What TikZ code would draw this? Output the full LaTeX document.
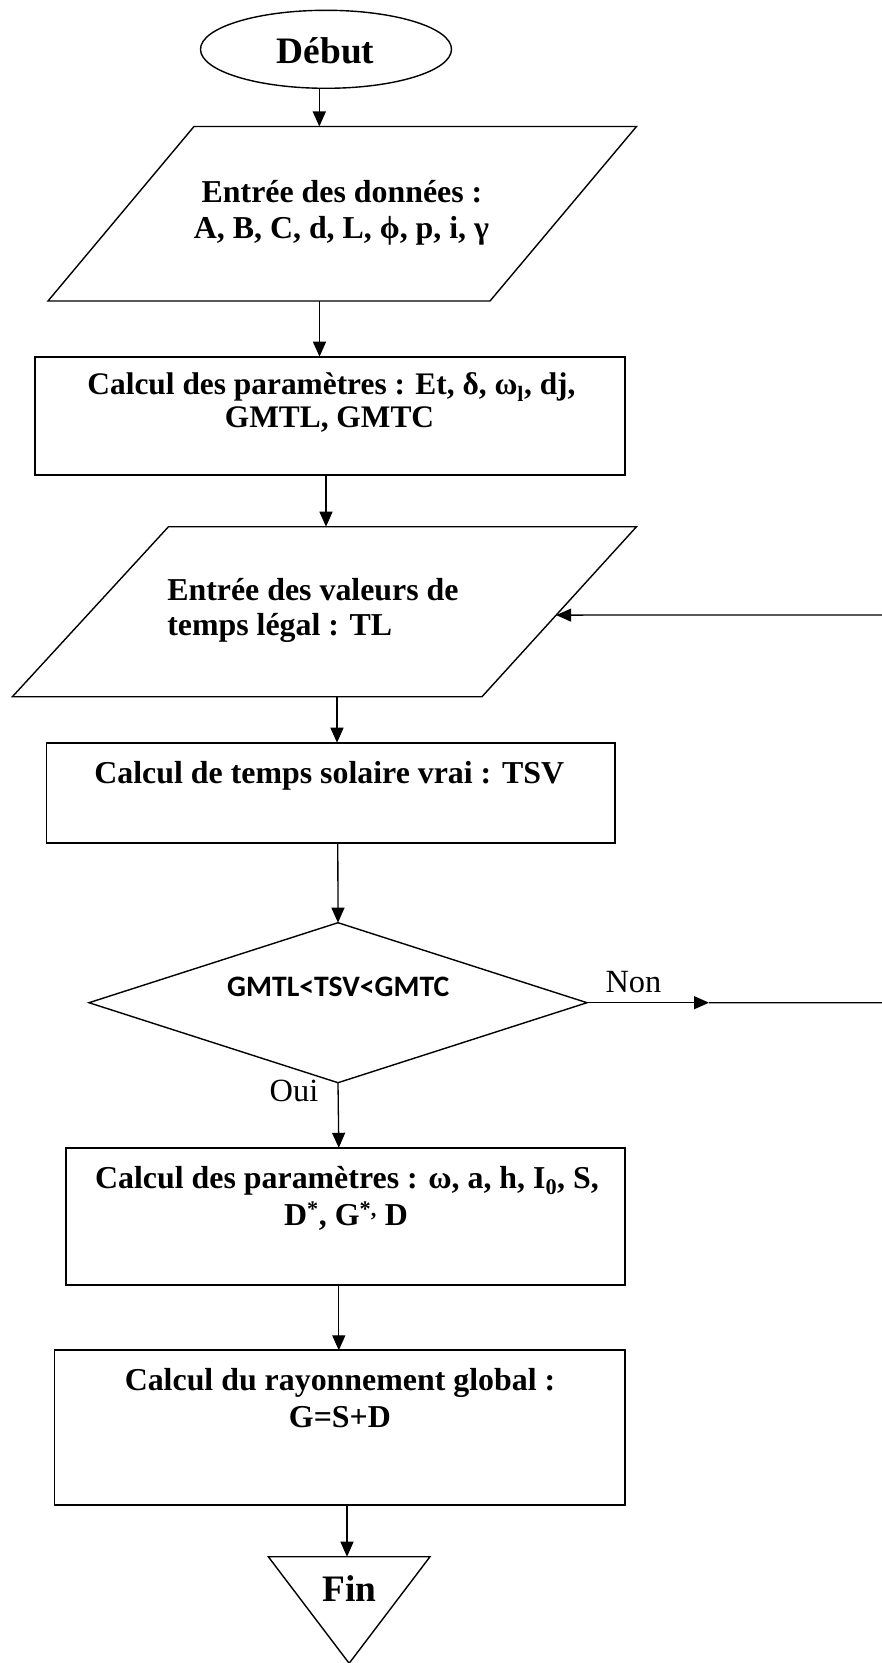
\documentclass[tikz,border=0pt]{standalone}
\usepackage{fontspec}
\setmainfont{Liberation Serif}
\newfontfamily\calfont{Carlito}
\usetikzlibrary{shapes.geometric,arrows.meta,calc}
\tikzset{
  arr/.style={line width=1.3bp,-{Triangle[length=15bp,width=13bp]}},
  boxshape/.style={draw,line width=1.8bp,rectangle,inner sep=0pt,outer sep=0pt},
  frame/.style={draw=none,rectangle,inner sep=0pt,outer sep=0pt},
  outline/.style={line width=1.4bp},
  txt/.style={inner sep=0pt,outer sep=0pt,anchor=base,font=\fontsize{32}{36}\selectfont\bfseries},
  txtl/.style={txt,anchor=base west},
  lbl/.style={inner sep=0pt,outer sep=0pt,anchor=base west,font=\fontsize{32.5}{36}\selectfont},
  big/.style={inner sep=0pt,outer sep=0pt,anchor=base,font=\fontsize{37.5}{40}\selectfont\bfseries},
}
\begin{document}
\begin{tikzpicture}[x=1bp,y=-1bp]
\useasboundingbox (0,0) rectangle (881,1663);
% Début
\node[draw,ellipse,line width=1.4bp,inner sep=0pt,outer sep=0pt,minimum width=251bp,minimum height=78bp] (debut) at (326,49.3) {};
\node[big] (tdebut) at (325.5,64) {Début};
% Parallelogram 1
\node[frame,minimum width=588.5bp,minimum height=174.5bp] (p1) at (342.25,213.75) {};
\draw[outline] (p1.south west) -- ++(442,0) -- (p1.north east) -- ++(-442.5,0) -- cycle;
\node[txt] (t1a) at (342,202.7) {Entrée des données :};
\node[txt] (t1b) at (341.5,238.3) {A, B, C, d, L, ϕ, p, i, γ};
% Box 2
\node[boxshape,minimum width=590.5bp,minimum height=118.3bp] (b2) at (330,415.85) {};
\node[txt,font=\fontsize{31.5}{36}\selectfont\bfseries] (t2a) at (331.5,394.5) {Calcul des paramètres : Et, δ, ω\textsubscript{l}, dj,};
\node[txt,font=\fontsize{31.5}{36}\selectfont\bfseries] (t2b) at (329.5,427) {GMTL, GMTC};
% Parallelogram 2
\node[frame,minimum width=624.1bp,minimum height=170bp] (p2) at (324.45,611.7) {};
\draw[outline] (p2.south west) -- ++(469.6,0) -- (p2.north east) -- ++(-468,0) -- cycle;
\coordinate (p2tr) at (p2.north east);
\coordinate (p2br) at ([xshift=-154.5bp]p2.south east);
\node[txtl] (t3a) at (167.3,600.7) {Entrée des valeurs de};
\node[txtl] (t3b) at (167.3,635.7) {temps légal : TL};
% Box 3
\node[boxshape,minimum width=568.4bp,minimum height=100bp] (b3) at (330.8,792.7) {};
\node[txt] (t4) at (329.2,783.3) {Calcul de temps solaire vrai : TSV};
% Decision
\node[draw,diamond,line width=1.4bp,inner sep=0pt,outer sep=0pt,minimum width=498bp,minimum height=160bp] (dec) at (338,1002.7) {};
\node[inner sep=0pt,anchor=base,font=\fontsize{29.8}{32}\selectfont\calfont\bfseries] (tdec) at (338.3,996) {GMTL<TSV<GMTC};
\node[lbl] (non) at (605.6,992.7) {Non};
\node[lbl] (oui) at (269.7,1101.7) {Oui};
% Box 4
\node[boxshape,minimum width=558.4bp,minimum height=137.2bp] (b4) at (345.5,1216.4) {};
\node[txt] (t5a) at (347,1188) {Calcul des paramètres : ω, a, h, I\textsubscript{0}, S,};
\node[txt] (t5b) at (346,1225.7) {D\textsuperscript{*}, G\textsuperscript{*,} D};
% Box 5
\node[boxshape,minimum width=570.2bp,minimum height=154.7bp] (b5) at (339.6,1427.65) {};
\node[txt] (t6a) at (340,1390) {Calcul du rayonnement global :};
\node[txt] (t6b) at (339.9,1427.5) {G=S+D};
% Fin
\node[frame,minimum width=161.7bp,minimum height=106.6bp] (fin) at (349.15,1610) {};
\draw[outline] (fin.north west) -- (fin.north east) -- (fin.south) -- cycle;
\node[big] (tfin) at (349.2,1601.7) {Fin};
% connector x positions
\coordinate (x1) at (319.3,0);
\coordinate (x2) at (319.5,0);
\coordinate (x3) at (326,0);
\coordinate (x4) at (337,0);
\coordinate (x5) at (337.8,0);
\coordinate (x6) at (338.8,0);
\coordinate (x7) at (347,0);
% connectors
\draw[arr] (debut.south -| x1) -- (p1.north -| x1);
\draw[arr] (p1.south -| x2) -- (b2.north -| x2);
\draw[arr] (b2.south -| x3) -- (p2.north -| x3);
\draw[arr] (p2.south -| x4) -- (b3.north -| x4);
\draw[arr] (b3.south -| x5) -- (dec.north);
\draw[arr] (dec.south) -- (b4.north -| x6);
\draw[arr] (b4.south -| x6) -- (b5.north -| x6);
\draw[arr] (b5.south -| x7) -- (fin.north -| x7);
% Non loop (the return leg runs just beyond the right page edge)
\coordinate (nonmid) at (709,1002.7);
\coordinate (edgeA) at (888,1002.7);
\coordinate (edgeB) at (888,615);
\draw[arr] (dec.east) -- (nonmid);
\draw[arr] (nonmid) -- (edgeA) -- (edgeB) -- ($(p2tr)!0.52!(p2br)$);
\end{tikzpicture}
\end{document}
